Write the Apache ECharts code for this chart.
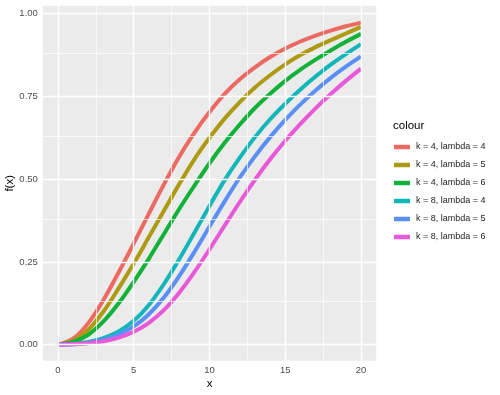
<!DOCTYPE html>
<html><head><meta charset="utf-8">
<script src="https://cdn.jsdelivr.net/npm/echarts@6/dist/echarts.min.js"></script>
<style>html,body{margin:0;padding:0;background:#fff}#c{width:500px;height:395px}</style>
</head><body><div id="c"></div>
<script>
const xValues = [0,1,2,3,4,5,6,7,8,9,10,11,12,13,14,15,16,17,18,19,20];
const seriesNames = ['k = 4, lambda = 4','k = 4, lambda = 5','k = 4, lambda = 6','k = 8, lambda = 4','k = 8, lambda = 5','k = 8, lambda = 6'];
const seriesColors = ['#EC6A62','#AE9A12','#12B138','#12B6B9','#5A90F5','#EA58DA'];
const k4l4 = [0,0.018,0.065,0.135,0.218,0.306,0.396,0.485,0.568,0.640,0.703,0.758,0.802,0.838,0.869,0.895,0.916,0.934,0.949,0.962,0.973];
const k4l5 = [0,0.012,0.045,0.10,0.17,0.245,0.325,0.405,0.485,0.56,0.625,0.683,0.733,0.777,0.814,0.847,0.875,0.899,0.92,0.94,0.960];
const k4l6 = [0,0.008,0.03,0.07,0.125,0.19,0.26,0.335,0.41,0.48,0.548,0.61,0.665,0.715,0.758,0.797,0.831,0.861,0.889,0.915,0.939];
const k8l4 = [0,0.002,0.008,0.020,0.040,0.072,0.120,0.184,0.258,0.338,0.419,0.497,0.565,0.627,0.681,0.728,0.771,0.810,0.846,0.878,0.908];
const k8l5 = [0,0.001,0.005,0.014,0.030,0.055,0.092,0.143,0.207,0.280,0.357,0.433,0.505,0.569,0.627,0.679,0.726,0.768,0.806,0.840,0.871];
const k8l6 = [0,0.001,0.004,0.010,0.021,0.039,0.066,0.105,0.157,0.219,0.288,0.360,0.431,0.498,0.560,0.616,0.667,0.714,0.757,0.797,0.834];
const seriesValues = [k4l4,k4l5,k4l6,k8l4,k8l5,k8l6];
const xTicks = [0,5,10,15,20];
const xMinorTicks = [2.5,7.5,12.5,17.5];
const yTicks = [0,0.25,0.5,0.75,1];
const yMinorTicks = [0.125,0.375,0.625,0.875];

const chart = echarts.init(document.getElementById('c'), null, {renderer:'canvas'});
const gridLines = [];
xMinorTicks.forEach(v => gridLines.push({xAxis:v, lineStyle:{color:'#fff', width:0.7, type:'solid'}}));
yMinorTicks.forEach(v => gridLines.push({yAxis:v, lineStyle:{color:'#fff', width:0.7, type:'solid'}}));
xTicks.forEach(v => gridLines.push({xAxis:v, lineStyle:{color:'#fff', width:1.4, type:'solid'}}));
yTicks.forEach(v => gridLines.push({yAxis:v, lineStyle:{color:'#fff', width:1.4, type:'solid'}}));

const series = [{
  name:'_grid', type:'line', data:[], z:1, silent:true, animation:false,
  markLine:{silent:true, symbol:'none', animation:false, label:{show:false}, data:gridLines}
}];
seriesNames.forEach((n,i) => {
  series.push({
    name:n, type:'line', z:3, showSymbol:false, smooth:0.3, animation:false,
    data: xValues.map((x,j) => [x, seriesValues[i][j]]),
    lineStyle:{color:seriesColors[i], width:4},
    itemStyle:{color:seriesColors[i]}
  });
});

chart.setOption({
  animation:false,
  grid:{left:42.85, right:123.85, top:5.8, bottom:34.2, show:true, backgroundColor:'#EBEBEB', borderWidth:0,
    containLabel:false, outerBoundsMode:'none'},
  xAxis:{type:'value', min:-1, max:21, name:'x', nameLocation:'middle', nameGap:17, nameMoveOverlap:false,
    nameTextStyle:{color:'#000', fontSize:11.5, fontFamily:'Liberation Sans', verticalAlign:'top'},
    axisLine:{show:false},
    axisTick:{show:true, length:3, lineStyle:{color:'#333', width:1}, customValues:xTicks},
    axisLabel:{color:'#4D4D4D', fontSize:9.5, margin:4.5, fontFamily:'Liberation Sans', customValues:xTicks},
    splitLine:{show:false}},
  yAxis:{type:'value', min:-0.0488, max:1.0238, name:'f(x)', nameLocation:'middle', nameRotate:90, nameGap:27, nameMoveOverlap:false,
    nameTextStyle:{color:'#000', fontSize:11.5, fontFamily:'Liberation Sans'},
    axisLine:{show:false},
    axisTick:{show:true, length:3, lineStyle:{color:'#333', width:1}, customValues:yTicks},
    axisLabel:{color:'#4D4D4D', fontSize:9.5, margin:5, fontFamily:'Liberation Sans', customValues:yTicks,
      formatter: v => v.toFixed(2)},
    splitLine:{show:false}},
  legend:{data:seriesNames, orient:'vertical', left:394, top:138, itemWidth:16, itemHeight:4.5, itemGap:0,
    icon:'rect', textStyle:{color:'#1a1a1a', fontSize:9, fontFamily:'Liberation Sans', lineHeight:18, padding:[0,0,0,1]},
    selectedMode:false, padding:0},
  graphic:[{type:'text', left:393, top:120, style:{text:'colour', fill:'#000', font:'11.5px "Liberation Sans"'}}],
  series: series
});
</script></body></html>
